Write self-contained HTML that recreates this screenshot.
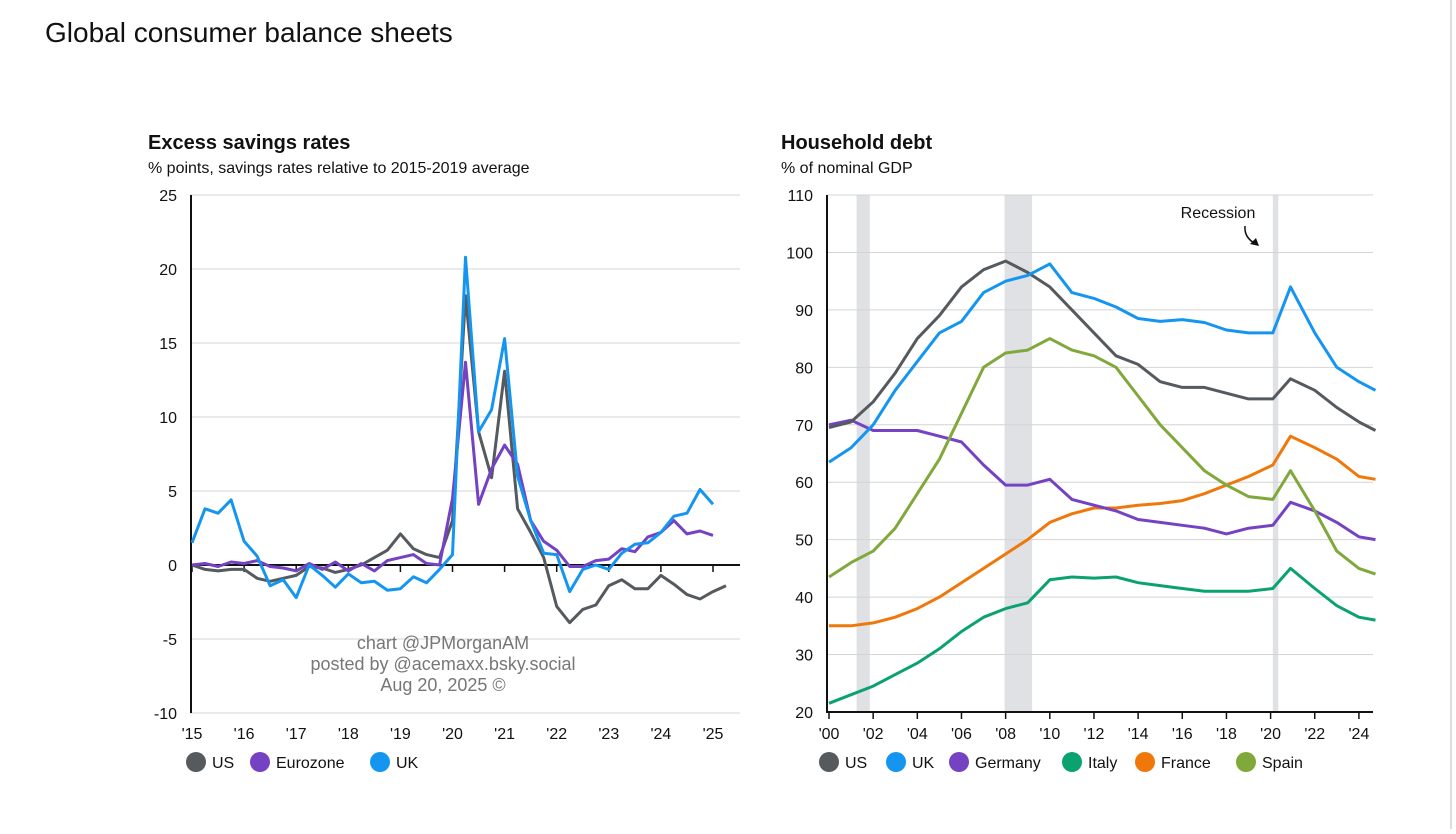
<!DOCTYPE html>
<html><head><meta charset="utf-8"><style>
body{margin:0;background:#fff;font-family:"Liberation Sans",Arial,sans-serif;}
svg text{font-family:"Liberation Sans",Arial,sans-serif;}
</style></head><body>
<svg id="s" width="1456" height="829" xmlns="http://www.w3.org/2000/svg">
<rect x="0" y="0" width="1456" height="829" fill="#fff"/>
<line x1="1451" y1="0" x2="1451" y2="829" stroke="#ddd" stroke-width="2"/>
<text x="45" y="42" font-size="28" fill="#111">Global consumer balance sheets</text>
<text x="148" y="149" font-size="20" font-weight="bold" fill="#111">Excess savings rates</text>
<text x="148" y="173" font-size="16" fill="#111">% points, savings rates relative to 2015-2019 average</text>
<text x="781" y="149" font-size="20" font-weight="bold" fill="#111">Household debt</text>
<text x="781" y="173" font-size="16" fill="#111">% of nominal GDP</text>
<g id="L"></g><g id="R"></g>
<text x="443" y="649" font-size="18" fill="#777" text-anchor="middle">chart @JPMorganAM</text>
<text x="443" y="670" font-size="18" fill="#777" text-anchor="middle">posted by @acemaxx.bsky.social</text>
<text x="443" y="691" font-size="18" fill="#777" text-anchor="middle">Aug 20, 2025 ©</text>
<text x="1218" y="218" font-size="16" fill="#111" text-anchor="middle">Recession</text>
<path d="M1245 226 Q1244 238 1256 244" fill="none" stroke="#111" stroke-width="1.5"/>
<path d="M1259 246 L1250 244 L1256 238 Z" fill="#111"/>
</svg>
<script>
// ---- Left chart data (quarterly from 2015Q1) ----
const leftYTicks=[25,20,15,10,5,0,-5,-10];
const leftXTicks=["'15","'16","'17","'18","'19","'20","'21","'22","'23","'24","'25"];
const usSavings=[0,-0.3,-0.4,-0.3,-0.3,-0.9,-1.1,-0.9,-0.7,-0.1,-0.2,-0.5,-0.3,0.0,0.5,1.0,2.1,1.1,0.7,0.5,3.0,18.2,9.0,5.9,13.1,3.8,2.2,0.5,-2.8,-3.9,-3.0,-2.7,-1.4,-1.0,-1.6,-1.6,-0.7,-1.3,-2.0,-2.3,-1.8,-1.4];
const ezSavings=[0,0.1,-0.1,0.2,0.1,0.3,-0.1,-0.2,-0.4,0.1,-0.3,0.2,-0.4,0.1,-0.4,0.3,0.5,0.7,0.1,0,4.5,13.7,4.1,6.5,8.1,6.8,3.0,1.6,1.0,-0.1,-0.1,0.3,0.4,1.1,0.9,1.9,2.2,3.0,2.1,2.3,2.0];
const ukSavings=[1.5,3.8,3.5,4.4,1.6,0.6,-1.4,-1.0,-2.2,0.0,-0.7,-1.5,-0.6,-1.2,-1.1,-1.7,-1.6,-0.8,-1.2,-0.3,0.7,20.8,9.0,10.5,15.3,6.0,3.0,0.8,0.7,-1.8,-0.3,0.0,-0.3,0.8,1.4,1.5,2.2,3.3,3.5,5.1,4.1];
// ---- Right chart data ----
const rightYTicks=[110,100,90,80,70,60,50,40,30,20];
const rightXTicks=["'00","'02","'04","'06","'08","'10","'12","'14","'16","'18","'20","'22","'24"];
const debtYears=[2000,2001,2002,2003,2004,2005,2006,2007,2008,2009,2010,2011,2012,2013,2014,2015,2016,2017,2018,2019,2020.1,2020.9,2022,2023,2024,2024.75];
const usDebt=[69.5,70.5,74,79,85,89,94,97,98.5,96.5,94,90,86,82,80.5,77.5,76.5,76.5,75.5,74.5,74.5,78,76,73,70.5,69];
const ukDebt=[63.5,66,70,76,81,86,88,93,95,96,98,93,92,90.5,88.5,88,88.3,87.8,86.5,86,86,94,86,80,77.5,76];
const deDebt=[70,70.8,69,69,69,68,67,63,59.5,59.5,60.5,57,56,55,53.5,53,52.5,52,51,52,52.5,56.5,55,53,50.5,50];
const itDebt=[21.5,23,24.5,26.5,28.5,31,34,36.5,38,39,43,43.5,43.3,43.5,42.5,42,41.5,41,41,41,41.5,45,41.5,38.5,36.5,36];
const frDebt=[35,35,35.5,36.5,38,40,42.5,45,47.5,50,53,54.5,55.5,55.5,56,56.3,56.8,58,59.5,61,63,68,66,64,61,60.5];
const esDebt=[43.5,46,48,52,58,64,72,80,82.5,83,85,83,82,80,75,70,66,62,59.5,57.5,57,62,55,48,45,44];
const recessions=[[2001.25,2001.85],[2007.95,2009.2],[2020.1,2020.35]];

const NS='http://www.w3.org/2000/svg';
function mk(tag,attrs,parent){const e=document.createElementNS(NS,tag);for(const k in attrs)e.setAttribute(k,attrs[k]);parent.appendChild(e);return e;}
const C={us:'#555a5f',ez:'#7442c2',uk:'#1496f0',it:'#0aa36f',fr:'#f0780a',es:'#80a83a'};

// Left
const L=document.getElementById('L');
const lx=t=>192+52.1*t, ly=v=>565-v*14.8;
leftYTicks.forEach(v=>{
  const g=mk('line',{x1:190,x2:740,y1:ly(v),y2:ly(v),stroke:v===0?'#111':'#d4d4d4','stroke-width':v===0?2:1},L);
  
  const t=mk('text',{x:177,y:ly(v)+6,'font-size':16,'text-anchor':'end',fill:'#111'},L);t.textContent=v;
  
});
mk('line',{x1:191,x2:191,y1:195,y2:713,stroke:'#111','stroke-width':2},L);
leftXTicks.forEach((s,i)=>{
  mk('line',{x1:lx(i),x2:lx(i),y1:565,y2:572,stroke:'#111','stroke-width':1.5},L);
  const t=mk('text',{x:lx(i),y:739,'font-size':16,'text-anchor':'middle',fill:'#111'},L);t.textContent=s;
  
});
function lline(arr,col,name){
  const d=arr.map((v,i)=>(i?'L':'M')+lx(i/4).toFixed(1)+' '+ly(v).toFixed(1)).join(' ');
  const p=mk('path',{d:d,fill:'none',stroke:col,'stroke-width':3,'stroke-linejoin':'round'},L);
  
}
lline(usSavings,C.us,'us-savings-line');lline(ezSavings,C.ez,'eurozone-savings-line');lline(ukSavings,C.uk,'uk-savings-line');

// Right
const R=document.getElementById('R');
const rx=y=>829+22.08*(y-2000), ry=v=>195+(110-v)*5.744;
recessions.forEach(r=>{
  const b=mk('rect',{x:rx(r[0]),y:195,width:rx(r[1])-rx(r[0]),height:517,fill:'#dfe1e4'},R);
  
});
rightYTicks.forEach(v=>{
  if(v>20){const g=mk('line',{x1:827,x2:1373,y1:ry(v),y2:ry(v),stroke:'#d4d4d4','stroke-width':1},R);
  }
  const t=mk('text',{x:813,y:ry(v)+6,'font-size':16,'text-anchor':'end',fill:'#111'},R);t.textContent=v;
  
});
mk('line',{x1:827,x2:827,y1:195,y2:713,stroke:'#111','stroke-width':2},R);
mk('line',{x1:827,x2:1373,y1:712,y2:712,stroke:'#111','stroke-width':2},R);
rightXTicks.forEach((s,i)=>{
  const yr=2000+2*i;
  mk('line',{x1:rx(yr),x2:rx(yr),y1:712,y2:719,stroke:'#111','stroke-width':1.5},R);
  const t=mk('text',{x:rx(yr),y:739,'font-size':16,'text-anchor':'middle',fill:'#111'},R);t.textContent=s;
  
});
function rline(arr,col,name){
  const d=arr.map((v,i)=>(i?'L':'M')+rx(debtYears[i]).toFixed(1)+' '+ry(v).toFixed(1)).join(' ');
  const p=mk('path',{d:d,fill:'none',stroke:col,'stroke-width':3,'stroke-linejoin':'round'},R);
  
}
rline(itDebt,C.it,'italy-debt-line');rline(frDebt,C.fr,'france-debt-line');rline(deDebt,C.ez,'germany-debt-line');
rline(esDebt,C.es,'spain-debt-line');rline(usDebt,C.us,'us-debt-line');rline(ukDebt,C.uk,'uk-debt-line');

// Legends
function legend(items,parent){
  items.forEach(it=>{
    const g=mk('g',{},parent);
    
    mk('circle',{cx:it[2],cy:762,r:10,fill:it[1]},g);
    const t=mk('text',{x:it[2]+16,y:768,'font-size':16,fill:'#111'},g);t.textContent=it[0];
  });
}
legend([['US',C.us,196],['Eurozone',C.ez,260],['UK',C.uk,380]],L);
legend([['US',C.us,829],['UK',C.uk,896],['Germany',C.ez,959],['Italy',C.it,1072],['France',C.fr,1145],['Spain',C.es,1246]],R);
</script>
</body></html>
